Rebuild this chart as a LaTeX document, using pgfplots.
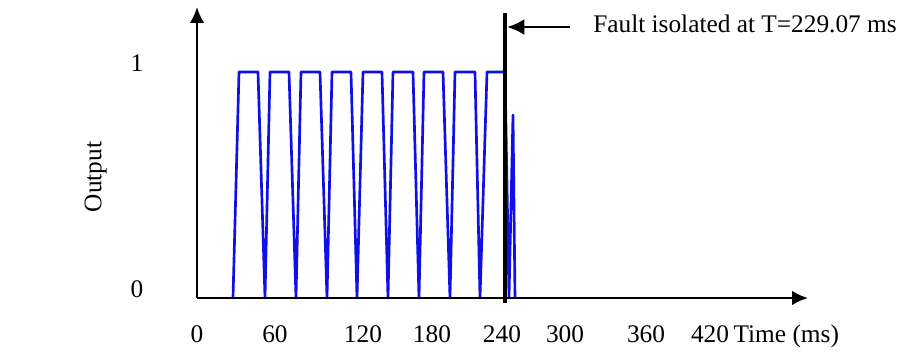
\documentclass[border=0pt]{standalone}
\usepackage{fontspec}
\setmainfont{Liberation Serif}
\usepackage{pgfplots}
\pgfplotsset{compat=1.18}
\usetikzlibrary{arrows.meta}
\definecolor{sig}{RGB}{15,15,230}
\begin{document}
\fontsize{19}{22}\selectfont
\begin{tikzpicture}
\useasboundingbox (-149.25pt,-41.25pt) rectangle (528.75pt,223.5pt);
\begin{axis}[
  at={(-1.5pt,0pt)}, anchor=south west,
  x=0.75pt, y=169.5pt,
  xmin=-2, xmax=609, ymin=0, ymax=1.2876,
  axis lines=left,
  axis on top,
  axis line style={line width=1.8pt, -{Latex[length=12pt,width=11pt]}},
  clip=false,
  major tick length=0pt,
  xtick={-2,76,164,233,303,366,447,511},
  xticklabels={0,60,120,180,240,300,360,420},
  ytick={0,1}, yticklabels={0,1},
  xticklabel style={anchor=base, yshift=-33.75pt},
  yticklabel style={anchor=base, xshift=-45pt},
  xlabel={Time (ms)},
  xlabel style={at={(axis description cs:0.864,-0.1546)}, anchor=base west},
  ylabel={Output},
  ylabel style={at={(axis description cs:-0.1658,0.4158)}, anchor=center},
]
\addplot[sig, line width=2pt, line join=round] coordinates {
 (34,0) (40,1) (59,1) (66,0)
 (71,1) (90,1) (97,0)
 (102,1) (121,1) (128,0)
 (133,1) (152,1) (158,0)
 (164,1) (183,1) (189,0)
 (194,1) (214,1) (220,0)
 (225,1) (244,1) (251,0)
 (256,1) (276,1) (281,0)
 (288,1) (306,1) (310,0)
 (314,0.81) (316,0)
};
\draw[line width=2.4pt] (axis cs:306,-0.022) -- (axis cs:306,1.261);
\draw[line width=2.2pt, -{Latex[length=13pt,width=12pt]}] (axis cs:371,1.199) -- (axis cs:308,1.199);
\node[anchor=base west, inner sep=0pt] at (axis cs:394,1.1726) {Fault isolated at T=229.07 ms};
\end{axis}
\end{tikzpicture}
\end{document}
